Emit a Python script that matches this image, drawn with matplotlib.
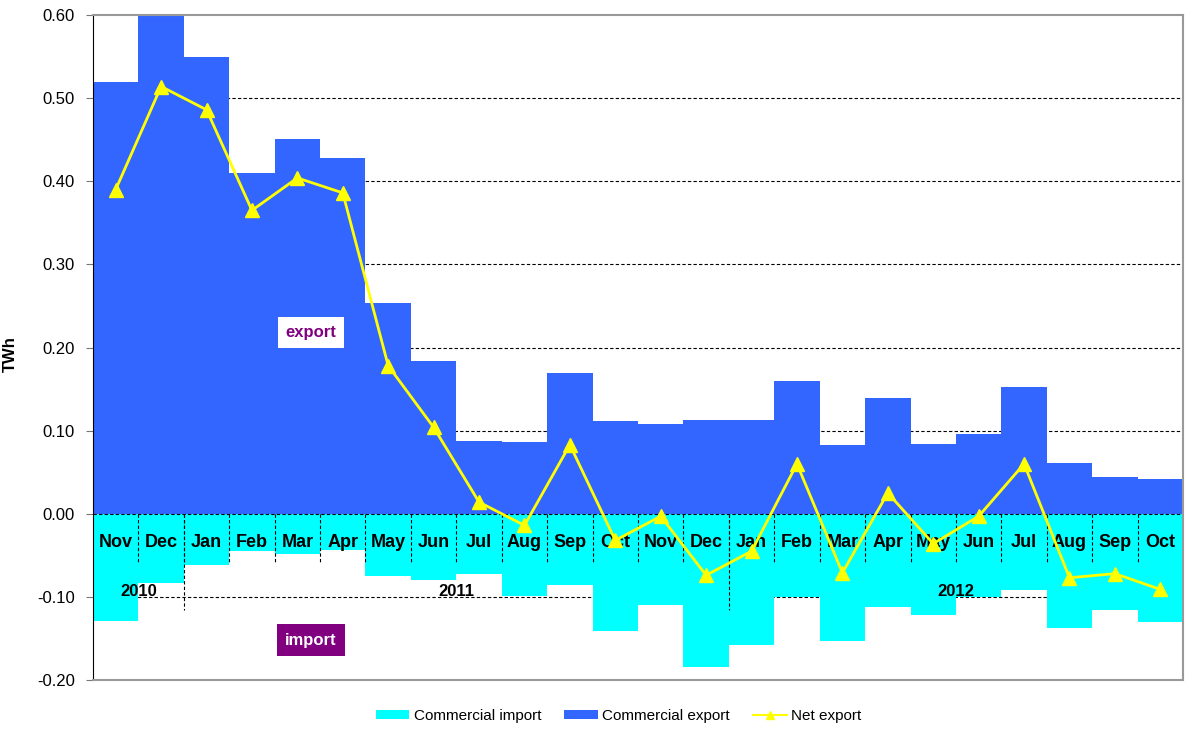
import numpy as np
import matplotlib.pyplot as plt
from matplotlib.patches import Patch
from matplotlib.lines import Line2D

plt.rcParams['font.family'] = ['Liberation Sans', 'DejaVu Sans']

months = ['Nov', 'Dec', 'Jan', 'Feb', 'Mar', 'Apr', 'May', 'Jun', 'Jul', 'Aug', 'Sep', 'Oct',
          'Nov', 'Dec', 'Jan', 'Feb', 'Mar', 'Apr', 'May', 'Jun', 'Jul', 'Aug', 'Sep', 'Oct']
years = ['2010', '2011', '2012']
year_spans = [(0, 1), (2, 13), (14, 23)]

export = [0.520, 0.599, 0.549, 0.410, 0.451, 0.428, 0.254, 0.184, 0.087, 0.086, 0.169, 0.111,
          0.108, 0.113, 0.113, 0.160, 0.083, 0.139, 0.084, 0.096, 0.152, 0.061, 0.044, 0.042]
imports = [-0.129, -0.083, -0.062, -0.045, -0.048, -0.043, -0.075, -0.080, -0.072, -0.099, -0.086, -0.141,
           -0.110, -0.184, -0.158, -0.100, -0.153, -0.112, -0.122, -0.100, -0.092, -0.138, -0.116, -0.130]
net = [0.390, 0.514, 0.486, 0.365, 0.404, 0.386, 0.178, 0.104, 0.014, -0.014, 0.083, -0.032,
       -0.003, -0.074, -0.045, 0.060, -0.071, 0.025, -0.036, -0.003, 0.060, -0.077, -0.072, -0.091]

x = np.arange(len(months))

fig = plt.figure(figsize=(11.86, 7.29), dpi=100)
ax = fig.add_axes([0.0784, 0.0672, 0.9191, 0.9122])

# gridlines behind the bars
for g in [-0.1, 0.1, 0.2, 0.3, 0.4, 0.5]:
    ax.axhline(g, color='black', linestyle=(0, (3, 2)), linewidth=0.8, zorder=0)

ax.bar(x, imports, width=1.0, color='#00FFFF', zorder=1)
ax.bar(x, export, width=1.0, color='#3366FF', zorder=1)

# month table drawn inside the plot
ax.axhline(0, color='black', linestyle=(0, (3, 2)), linewidth=0.8, zorder=2)
for i in range(len(months) - 1):
    ax.plot([i + 0.5, i + 0.5], [0, -0.058], color='black', linestyle=(0, (3, 2)),
            linewidth=0.8, zorder=2)
for s, e in year_spans[:-1]:
    ax.plot([e + 0.5, e + 0.5], [0, -0.116], color='black', linestyle=(0, (3, 2)),
            linewidth=0.8, zorder=2)
ax.plot([23.5, 23.5], [0, -0.116], color='black', linestyle=(0, (3, 2)), linewidth=1.2, zorder=2)

for i, m in enumerate(months):
    ax.text(i, -0.035, m, ha='center', va='center', fontsize=13, fontweight='bold', zorder=3)
for yr, (s, e) in zip(years, year_spans):
    ax.text((s + e) / 2, -0.093, yr, ha='center', va='center', fontsize=12, fontweight='bold', zorder=3)

ax.plot(x, net, color='#FFFF00', linewidth=2, marker='^', markersize=10, zorder=4)

ax.text(4.3, 0.218, 'export', ha='center', va='center', fontsize=12, fontweight='bold',
        color='#800080', zorder=5,
        bbox=dict(facecolor='white', edgecolor='none', pad=5.5))
ax.text(4.3, -0.152, 'import', ha='center', va='center', fontsize=12, fontweight='bold',
        color='white', zorder=5,
        bbox=dict(facecolor='#800080', edgecolor='none', pad=6))

ax.set_xlim(-0.5, 23.5)
ax.set_ylim(-0.2, 0.6)
ax.set_yticks(np.arange(-0.2, 0.61, 0.1))
ax.set_yticklabels([f'{v:.2f}' for v in np.arange(-0.2, 0.61, 0.1)], fontsize=12)
ax.set_xticks([])
ax.set_ylabel('TWh', fontsize=12, fontweight='bold')
ax.yaxis.set_label_coords(-0.069, 0.49)

ax.spines['left'].set_color('black')
for side in ['top', 'right', 'bottom']:
    ax.spines[side].set_color('#999999')
    ax.spines[side].set_linewidth(1.5)
ax.tick_params(axis='y', direction='out', length=5, color='#777777', pad=8)

handles = [Patch(facecolor='#00FFFF', label='Commercial import'),
           Patch(facecolor='#3366FF', label='Commercial export'),
           Line2D([0], [0], color='#FFFF00', marker='^', markersize=6, linewidth=1.5, label='Net export')]
fig.legend(handles=handles, loc='center', bbox_to_anchor=(0.5215, 0.018), ncol=3, frameon=False,
           fontsize=11, handlelength=2.2, handleheight=0.55, columnspacing=1.5, handletextpad=0.3)

fig.savefig('out.png', dpi=100)
